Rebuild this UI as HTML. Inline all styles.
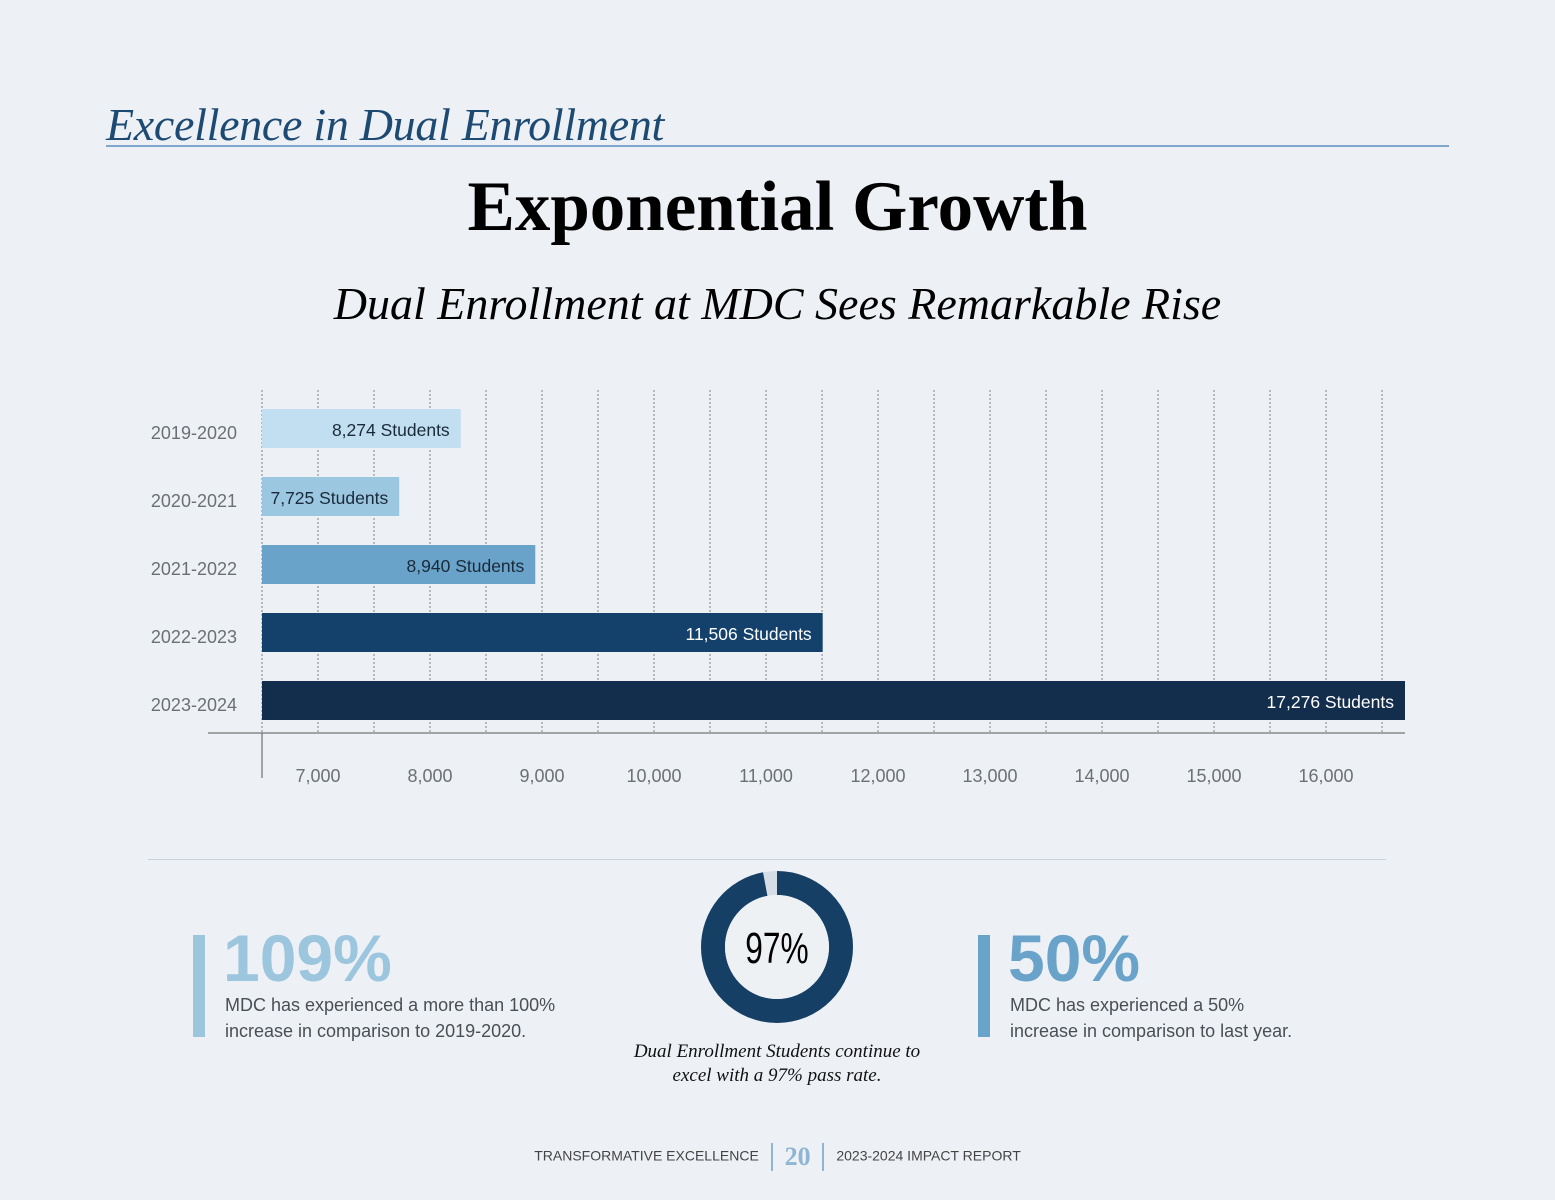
<!DOCTYPE html>
<html><head><meta charset="utf-8"><style>
body{margin:0;width:1555px;height:1200px;background:#edf1f5;overflow:hidden;position:relative;font-family:"Liberation Sans",sans-serif}
.abs{position:absolute}
.serif{font-family:"Liberation Serif",serif}
</style></head><body>
<div class="abs serif" style="left:106px;top:98px;font-size:46px;font-style:italic;color:#1d4a73;letter-spacing:-0.3px">Excellence in Dual Enrollment</div>
<div class="abs" style="left:106px;top:145px;width:1343px;height:2px;background:#7fa6cc"></div>
<div class="abs serif" style="left:0;width:1555px;text-align:center;top:167px;font-size:71px;font-weight:bold;color:#000">Exponential Growth</div>
<div class="abs serif" style="left:0;width:1555px;text-align:center;top:277px;font-size:46px;font-style:italic;color:#000">Dual Enrollment at MDC Sees Remarkable Rise</div>

<svg class="abs" style="left:0;top:0" width="1555" height="860" id="chart"></svg>

<div class="abs" style="left:148px;top:859px;width:1238px;height:1px;background:#c9d0d8"></div>

<div class="abs" style="left:193px;top:935px;width:12px;height:102px;background:#9cc5de"></div>
<div class="abs" style="left:223px;top:920px;font-size:66px;font-weight:bold;color:#9cc5de">109%</div>
<div class="abs" style="left:225px;top:992px;font-size:18px;line-height:26px;color:#4a4f55">MDC has experienced a more than 100%<br>increase in comparison to 2019-2020.</div>

<svg class="abs" style="left:697px;top:867px" width="160" height="160">
<circle cx="80" cy="80" r="64" fill="none" stroke="#d6dde4" stroke-width="24"/>
<circle cx="80" cy="80" r="64" fill="none" stroke="#163f66" stroke-width="24" stroke-dasharray="390.1 402.1" transform="rotate(-90 80 80)"/>
<circle cx="80" cy="80" r="52" fill="#eef1f4"/>
<text x="80" y="96" text-anchor="middle" font-family="Liberation Sans Narrow, Liberation Sans, sans-serif" font-size="44" transform="translate(80 0) scale(0.72 1) translate(-80 0)">97%</text>
</svg>
<div class="abs serif" style="left:577px;width:400px;text-align:center;top:1040px;font-size:19px;line-height:24px;font-style:italic;color:#111">Dual Enrollment Students continue to<br>excel with a 97% pass rate.</div>

<div class="abs" style="left:978px;top:935px;width:12px;height:102px;background:#6aa3c9"></div>
<div class="abs" style="left:1008px;top:920px;font-size:66px;font-weight:bold;color:#6aa3c9">50%</div>
<div class="abs" style="left:1010px;top:992px;font-size:18px;line-height:26px;color:#4a4f55">MDC has experienced a 50%<br>increase in comparison to last year.</div>

<div class="abs" style="left:0;width:1555px;top:1142px;text-align:center;font-size:14px;color:#444;white-space:nowrap">
<span>TRANSFORMATIVE EXCELLENCE</span>
<span style="display:inline-block;width:2px;height:28px;background:#8fb5d2;vertical-align:middle;margin:0 8px"></span>
<span class="serif" style="font-size:26px;font-weight:bold;color:#8fb5d2;vertical-align:middle">20</span>
<span style="display:inline-block;width:2px;height:28px;background:#8fb5d2;vertical-align:middle;margin:0 8px"></span>
<span>2023-2024 IMPACT REPORT</span>
</div>

<script>
const categories=["2019-2020","2020-2021","2021-2022","2022-2023","2023-2024"];
const values=[8274,7725,8940,11506,17276];
const valueLabels=["8,274 Students","7,725 Students","8,940 Students","11,506 Students","17,276 Students"];
const tickValues=[7000,8000,9000,10000,11000,12000,13000,14000,15000,16000];
const tickLabels=["7,000","8,000","9,000","10,000","11,000","12,000","13,000","14,000","15,000","16,000"];
const barColors=["#c1dff0","#9bc7e0","#6aa3c9","#13416b","#132e4d"];
const labelColors=["#1a2a3a","#1a2a3a","#1a2a3a","#fff","#fff"];
const NS="http://www.w3.org/2000/svg";
const svg=document.getElementById('chart');
const xMin=6500,xMax=16705,x0=262,x1=1405;
const x=v=>x0+(Math.min(Math.max(v,xMin),xMax)-xMin)/(xMax-xMin)*(x1-x0);
const y=i=>429+i*68;
function mk(t,a){const e=document.createElementNS(NS,t);for(const k in a)e.setAttribute(k,a[k]);svg.appendChild(e);return e;}
for(let v=xMin;v<=16500;v+=500){
 const g=mk('line',{x1:x(v),x2:x(v),y1:390,y2:733,stroke:'#666','stroke-width':0.8,'stroke-dasharray':'2,2'});
 
 
}
categories.forEach((c,i)=>{
 const r=mk('rect',{x:x0,y:y(i)-20,width:x(values[i])-x0,height:39,fill:barColors[i]});
 
 
 const t=mk('text',{x:x(values[i])-11,y:y(i)+7,'text-anchor':'end','font-size':17.5,fill:labelColors[i]});
 t.textContent=valueLabels[i];
 
 
 const l=mk('text',{x:237,y:y(i)+10,'text-anchor':'end','font-size':18,fill:'#6b7075'});
 l.textContent=c;
 
 
});
const ax=mk('line',{x1:208,x2:x1,y1:733,y2:733,stroke:'#555','stroke-width':1});


const tk=mk('line',{x1:x0,x2:x0,y1:733,y2:778,stroke:'#555','stroke-width':1});


tickValues.forEach((v,i)=>{
 const t=mk('text',{x:x(v),y:782,'text-anchor':'middle','font-size':18,fill:'#6b7075'});
 t.textContent=tickLabels[i];
 
 
});
</script>
</body></html>
